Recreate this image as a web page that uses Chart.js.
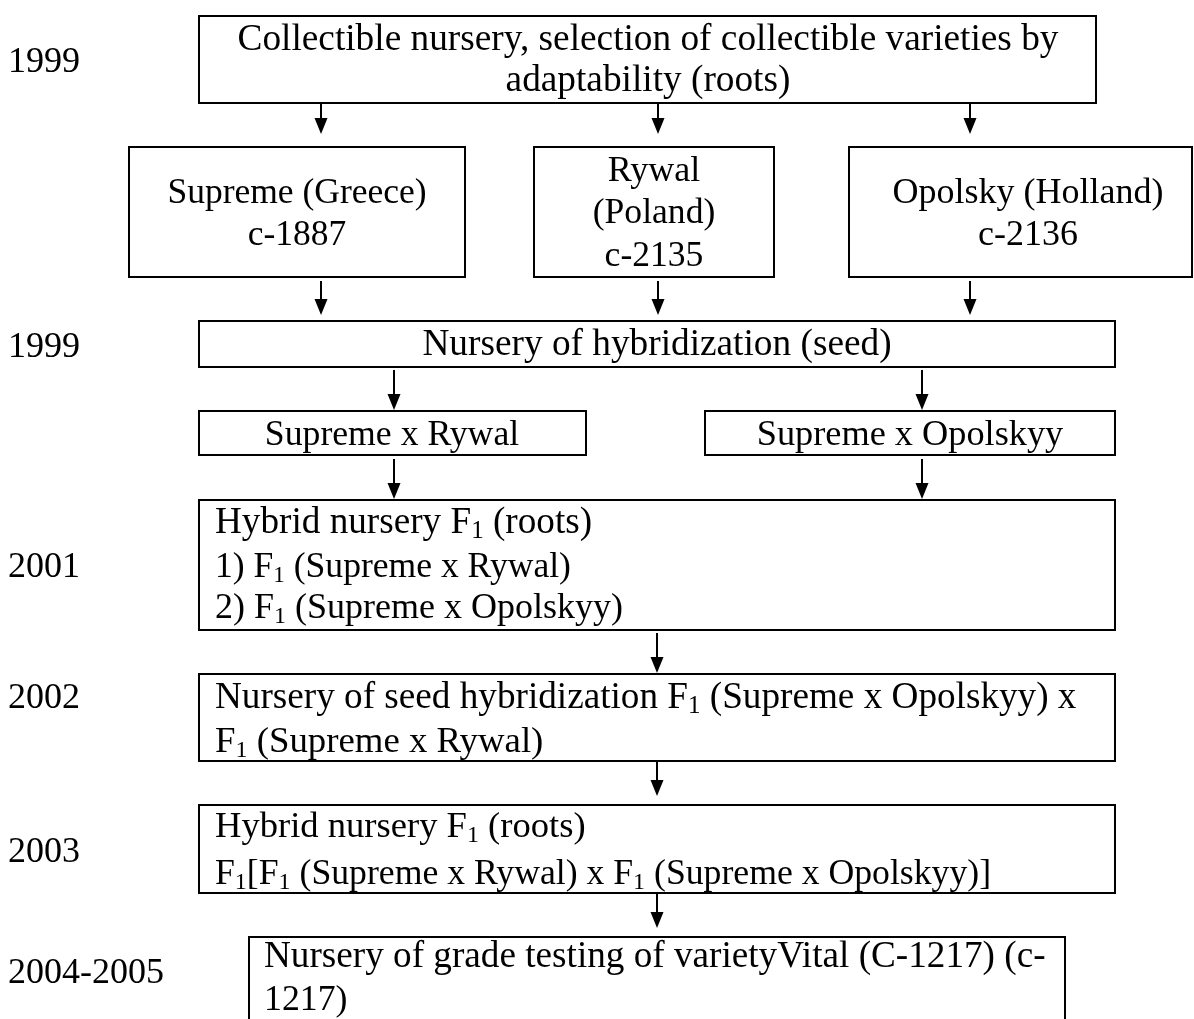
<!DOCTYPE html>
<html lang="en">
<head>
<meta charset="UTF-8">
<title>Scheme of breeding of variety Vital</title>
<script src="https://cdn.jsdelivr.net/npm/chart.js"></script>
<style>
  html, body { margin: 0; padding: 0; background: #fff; }
  #wrap { width: 1194px; height: 1019px; }
</style>
</head>
<body>
<div id="wrap"><canvas id="scheme" width="1194" height="1019"></canvas></div>
<script>
// years on the left
const years = ["1999", "1999", "2001", "2002", "2003", "2004-2005"];

// text of every box, "_{1}" is a subscript
const nodeText = [
  ["Collectible nursery, selection of collectible varieties by", "adaptability (roots)"],
  ["Supreme (Greece)", "c-1887"],
  ["Rywal", "(Poland)", "c-2135"],
  ["Opolsky (Holland)", "c-2136"],
  ["Nursery of hybridization (seed)"],
  ["Supreme x Rywal"],
  ["Supreme x Opolskyy"],
  ["Hybrid nursery F_{1} (roots)", "1) F_{1} (Supreme x Rywal)", "2) F_{1} (Supreme x Opolskyy)"],
  ["Nursery of seed hybridization F_{1} (Supreme x Opolskyy) x", "F_{1} (Supreme x Rywal)"],
  ["Hybrid nursery F_{1} (roots)", "F_{1}[F_{1} (Supreme x Rywal) x F_{1} (Supreme x Opolskyy)]"],
  ["Nursery of grade testing of varietyVital (C-1217) (c-", "1217)"]
];

// layout, in the pixel units of the two hidden axes
const yearRows = [72, 357, 577, 708, 862, 983];
// [left, right, top, bottom, open at the bottom]
const boxes = [
  [199, 1096, 16, 103],
  [129, 465, 147, 277],
  [534, 774, 147, 277],
  [849, 1192, 147, 277],
  [199, 1115, 321, 367],
  [199, 586, 411, 455],
  [705, 1115, 411, 455],
  [199, 1115, 500, 630],
  [199, 1115, 674, 761],
  [199, 1115, 805, 893],
  [249, 1065, 937, 1019, true]
];
// [x, align]
const textAnchor = [
  [648, "center"], [297, "center"], [654, "center"], [1028, "center"],
  [657, "center"], [392, "center"], [910, "center"],
  [215, "left"], [215, "left"], [215, "left"], [264, "left"]
];
const lineBase = [
  [50, 91], [203, 245], [181, 223, 266], [203, 245],
  [355], [445], [445],
  [533, 577, 618], [708, 752], [837, 884], [967, 1010]
];
// font size of every line, px
const fontPx = [
  [37.3, 37.3], [35.5, 35.5], [36, 35.6, 35.6], [36, 36],
  [37.3], [35.7], [36.3],
  [37.2, 35.6, 36], [37.2, 36.8], [36.6, 35.7], [37.2, 35.8]
];
// [x, from, tip]
const arrows = [
  [321, 104, 134], [658, 104, 134], [970, 104, 134],
  [321, 281, 315], [658, 281, 315], [970, 281, 315],
  [394, 370, 410], [922, 370, 410],
  [394, 459, 499], [922, 459, 499],
  [657, 633, 673], [657, 761, 796], [657, 893, 928]
];

const FAMILY = '"Liberation Serif", "Times New Roman", serif';
const font = px => px + 'px ' + FAMILY;

function boxPath(b) {
  const [x0, x1, y0, y1, open] = b;
  const pts = [{x: x0, y: y1}, {x: x0, y: y0}, {x: x1, y: y0}, {x: x1, y: y1}];
  if (!open) pts.push({x: x0, y: y1});
  return pts;
}

const datasets = boxes.map(b => ({
  data: boxPath(b), showLine: true, borderColor: '#000', borderWidth: 2,
  borderJoinStyle: 'miter', borderCapStyle: 'square', pointRadius: 0, fill: false, tension: 0
}));
arrows.forEach(a => datasets.push({
  data: [{x: a[0], y: a[1]}, {x: a[0], y: a[2] - 10}], showLine: true, borderColor: '#000',
  borderWidth: 2, pointRadius: 0, fill: false
}));

function drawRich(ctx, s, px, py, mode, size) {
  const segs = s.split(/_\{([^}]*)\}/).map((t, k) => ({t, sub: k % 2 === 1}));
  const main = font(size), sub = font(Math.round(size * 0.66));
  let w = 0;
  segs.forEach(g => { ctx.font = g.sub ? sub : main; g.w = ctx.measureText(g.t).width; w += g.w; });
  let cx = mode === 'center' ? px - w / 2 : px;
  segs.forEach(g => {
    ctx.font = g.sub ? sub : main;
    ctx.fillText(g.t, cx, py + (g.sub ? 5 : 0));
    cx += g.w;
  });
}

const schemeText = {
  id: 'schemeText',
  afterDatasetsDraw(chart) {
    const {ctx, scales: {x, y}} = chart;
    ctx.save();
    ctx.fillStyle = '#000';
    ctx.textAlign = 'left';
    ctx.textBaseline = 'alphabetic';
    years.forEach((t, i) => {
      ctx.font = font(36);
      ctx.fillText(t, x.getPixelForValue(8), y.getPixelForValue(yearRows[i]));
    });
    nodeText.forEach((lines, i) => {
      const [ax, mode] = textAnchor[i];
      lines.forEach((ln, j) => drawRich(ctx, ln, x.getPixelForValue(ax),
        y.getPixelForValue(lineBase[i][j]), mode, fontPx[i][j]));
    });
    // arrow heads
    arrows.forEach(a => {
      const px = x.getPixelForValue(a[0]), py = y.getPixelForValue(a[2]);
      ctx.beginPath();
      ctx.moveTo(px, py);
      ctx.lineTo(px - 6.5, py - 16);
      ctx.lineTo(px + 6.5, py - 16);
      ctx.closePath();
      ctx.fill();
    });
    ctx.restore();
  }
};

new Chart(document.getElementById('scheme'), {
  type: 'scatter',
  data: { datasets },
  options: {
    responsive: false,
    animation: false,
    devicePixelRatio: 1,
    events: [],
    layout: { padding: 0 },
    plugins: { legend: { display: false }, tooltip: { enabled: false } },
    scales: {
      x: { type: 'linear', min: 0, max: 1194, display: false },
      y: { type: 'linear', min: 0, max: 1019, reverse: true, display: false }
    }
  },
  plugins: [schemeText]
});
</script>
</body>
</html>
